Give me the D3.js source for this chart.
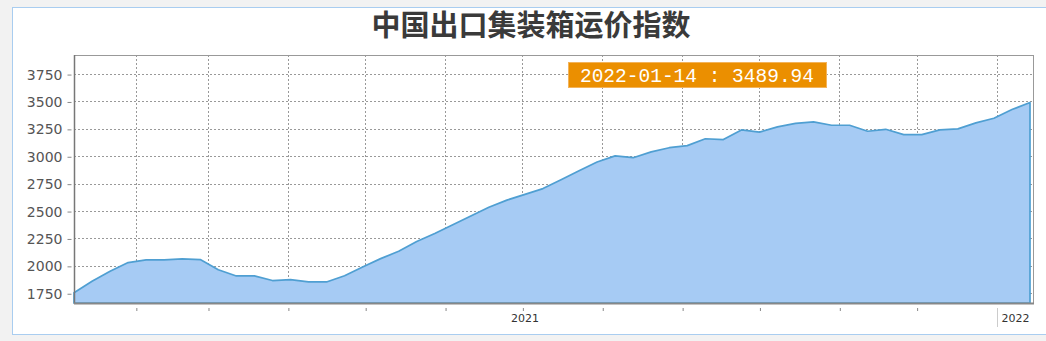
<!DOCTYPE html>
<head>
<meta charset="utf-8">
<style>
body { margin: 0; background: #f2f2f2; }
svg { display: block; }
.grid line { stroke: #999; stroke-width: 1px; stroke-dasharray: 2,2; }
.yaxis text { font-family: "DejaVu Sans", sans-serif; font-size: 14px; fill: #555; }
.yaxis line, .xaxis line { stroke: #888; }
.yaxis path, .xaxis path { display: none; }
</style>
</head>
<body>
<script src="https://cdn.jsdelivr.net/npm/d3@7"></script>
<script>
var title = "中国出口集装箱运价指数";

var dates = ["2021-01-08","2021-01-15","2021-01-22","2021-01-29","2021-02-05","2021-02-12","2021-02-19","2021-02-26",
  "2021-03-05","2021-03-12","2021-03-19","2021-03-26","2021-04-02","2021-04-09","2021-04-16","2021-04-23","2021-04-30",
  "2021-05-07","2021-05-14","2021-05-21","2021-05-28","2021-06-04","2021-06-11","2021-06-18","2021-06-25",
  "2021-07-02","2021-07-09","2021-07-16","2021-07-23","2021-07-30","2021-08-06","2021-08-13","2021-08-20","2021-08-27",
  "2021-09-03","2021-09-10","2021-09-17","2021-09-24","2021-10-01","2021-10-08","2021-10-15","2021-10-22","2021-10-29",
  "2021-11-05","2021-11-12","2021-11-19","2021-11-26","2021-12-03","2021-12-10","2021-12-17","2021-12-24","2021-12-31",
  "2022-01-07","2022-01-14"];

var values = [1755, 1860, 1950, 2030, 2055, 2055, 2063, 2057, 1965, 1908,
  1908, 1866, 1874, 1853, 1853, 1910, 1990, 2066, 2133, 2222,
  2295, 2375, 2455, 2535, 2600, 2652, 2705, 2785, 2867, 2948,
  3004, 2987, 3040, 3078, 3097, 3160, 3152, 3240, 3220, 3268,
  3300, 3314, 3283, 3283, 3228, 3246, 3198, 3198, 3241, 3250,
  3305, 3347, 3426, 3489.94];

var yTicks = [1750, 2000, 2250, 2500, 2750, 3000, 3250, 3500, 3750];
var monthTicks = ["2021-02-01","2021-03-01","2021-04-01","2021-05-01","2021-06-01","2021-07-01",
  "2021-08-01","2021-09-01","2021-10-01","2021-11-01","2021-12-01","2022-01-01"];
var yearLabels = ["2021", "2022"];
var yearLabelDates = ["2021-07-02", "2022-01-01"];

var parse = d3.timeParse("%Y-%m-%d");
var data = dates.map(function(d, i) { return {date: parse(d), value: values[i]}; });

var W = 1046, H = 341;
var pLeft = 74, pRight = 1033, pTop = 55, pBottom = 303;

var svg = d3.select("body").append("svg")
  .attr("width", W)
  .attr("height", H);

// panel
svg.append("rect")
  .attr("x", 12.5).attr("y", 7.5)
  .attr("width", 1045).attr("height", 327)
  .attr("fill", "#fff")
  .attr("stroke", "#a9cdf0");

svg.append("text")
  .attr("x", 531).attr("y", 36)
  .attr("text-anchor", "middle")
  .attr("font-family", "'Noto Sans CJK SC', sans-serif")
  .attr("font-weight", "bold")
  .attr("font-size", 29)
  .attr("fill", "#3a3a3a")
  .text(title);

var x = d3.scaleTime()
  .domain([data[0].date, data[data.length - 1].date])
  .range([pLeft, 1030]);

var y = d3.scaleLinear()
  .domain([1661, 3924])
  .range([pBottom, pTop]);

// grid
var grid = svg.append("g").attr("class", "grid");
grid.selectAll(".h").data(yTicks).enter().append("line")
  .attr("x1", pLeft).attr("x2", pRight)
  .attr("y1", function(d) { return Math.round(y(d)) + 0.5; })
  .attr("y2", function(d) { return Math.round(y(d)) + 0.5; });
grid.selectAll(".v").data(monthTicks).enter().append("line")
  .attr("y1", pTop).attr("y2", pBottom)
  .attr("x1", function(d) { return Math.round(x(parse(d))) + 0.5; })
  .attr("x2", function(d) { return Math.round(x(parse(d))) + 0.5; });

// area
var area = d3.area()
  .x(function(d) { return x(d.date); })
  .y0(pBottom)
  .y1(function(d) { return y(d.value); });

svg.append("path")
  .datum(data)
  .attr("d", area)
  .attr("fill", "#a6cbf4")
  .attr("stroke", "#4f9fd2")
  .attr("stroke-width", 1.7)
  .attr("stroke-linejoin", "round");

// frame
svg.append("rect")
  .attr("x", pLeft + 0.5).attr("y", pTop + 0.5)
  .attr("width", pRight - pLeft).attr("height", pBottom - pTop)
  .attr("fill", "none")
  .attr("stroke", "#999");
svg.append("line")
  .attr("x1", pLeft + 0.5).attr("x2", pLeft + 0.5)
  .attr("y1", pTop).attr("y2", pBottom + 1)
  .attr("stroke", "#777").attr("stroke-width", 1.5);
svg.append("line")
  .attr("x1", pLeft).attr("x2", pRight + 1)
  .attr("y1", pBottom + 0.5).attr("y2", pBottom + 0.5)
  .attr("stroke", "#888").attr("stroke-width", 2);

// axes
svg.append("g")
  .attr("class", "yaxis")
  .attr("transform", "translate(71.5,0.5)")
  .call(d3.axisLeft(y).tickValues(yTicks).tickFormat(d3.format("d")).tickSize(4).tickPadding(5));

svg.append("g")
  .attr("class", "xaxis")
  .attr("transform", "translate(0.5,308)")
  .call(d3.axisBottom(x).tickValues(monthTicks.map(parse)).tickSize(3).tickFormat(""));

// year labels
svg.append("line")
  .attr("x1", Math.round(x(parse(yearLabelDates[1]))) + 0.5)
  .attr("x2", Math.round(x(parse(yearLabelDates[1]))) + 0.5)
  .attr("y1", 308).attr("y2", 327)
  .attr("stroke", "#ccc");

svg.selectAll(".year").data(yearLabels).enter().append("text")
  .attr("x", function(d, i) { return i === 0 ? x(parse(yearLabelDates[i])) : x(parse(yearLabelDates[i])) + 5; })
  .attr("y", 322)
  .attr("text-anchor", function(d, i) { return i === 0 ? "middle" : "start"; })
  .attr("font-family", "'DejaVu Sans', sans-serif")
  .attr("font-size", 11)
  .attr("fill", "#333")
  .text(function(d) { return d; });

// last value label
var last = data[data.length - 1];
svg.append("rect")
  .attr("x", 568.5).attr("y", 62.5)
  .attr("width", 258).attr("height", 25)
  .attr("fill", "#eb8f00")
  .attr("stroke", "#f3b35a");
svg.append("text")
  .attr("x", 697).attr("y", 82)
  .attr("text-anchor", "middle")
  .attr("font-family", "'Liberation Mono', monospace")
  .attr("font-size", 19.5)
  .attr("fill", "#fff")
  .text(d3.timeFormat("%Y-%m-%d")(last.date) + " : " + last.value.toFixed(2));
</script>
</body>
